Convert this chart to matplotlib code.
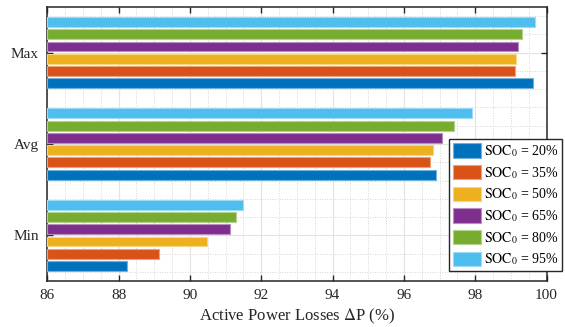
import matplotlib
matplotlib.use("Agg")
import matplotlib.pyplot as plt
import matplotlib.colors as mcolors
from matplotlib.ticker import MultipleLocator
import numpy as np

plt.rcParams['font.family'] = ['Liberation Serif', 'DejaVu Serif']
plt.rcParams['mathtext.fontset'] = 'stix'

categories = ['Min', 'Avg', 'Max']
soc_levels = ['20%', '35%', '50%', '65%', '80%', '95%']
# Active power losses (%) for each initial SOC, ordered Min, Avg, Max
losses = {
    '20%': [88.24, 96.91, 99.62],
    '35%': [89.13, 96.73, 99.11],
    '50%': [90.47, 96.83, 99.13],
    '65%': [91.11, 97.06, 99.19],
    '80%': [91.29, 97.41, 99.32],
    '95%': [91.48, 97.90, 99.69],
}
colors = ['#0072BD', '#D95319', '#EDB120', '#7E2F8E', '#77AC30', '#4DBEEE']

fig = plt.figure(figsize=(5.65, 3.27), dpi=100)
ax = fig.add_axes([0.0837, 0.1407, 0.8836, 0.8379])

y = np.arange(1, len(categories) + 1)
slot = 0.134
bar_h = 0.108
x0 = 86
for i, (lvl, c) in enumerate(zip(soc_levels, colors)):
    vals = np.array(losses[lvl])
    edge = mcolors.to_rgba(c)
    edge = tuple(0.55 * np.array(edge[:3]) + 0.45) + (1,)
    ax.barh(y + (i - 2.5) * slot, vals - x0, left=x0, height=bar_h,
            color=c, edgecolor=edge, linewidth=0.8, zorder=3,
            label=r'$\mathrm{SOC}_0$ = ' + lvl)

ax.set_xlim(86, 100)
ax.set_ylim(0.5, 3.5)
ax.set_yticks(y)
ax.set_yticklabels(categories)
ax.xaxis.set_major_locator(MultipleLocator(2))
ax.xaxis.set_minor_locator(MultipleLocator(0.5))
ax.yaxis.set_minor_locator(MultipleLocator(0.2))

ax.grid(True, which='major', color='#e3e3e3', linewidth=0.8, linestyle='-', zorder=0)
ax.grid(True, which='minor', color='#c8c8c8', linewidth=0.6, linestyle=(0, (1, 2)), zorder=0)
ax.set_axisbelow(True)

ax.tick_params(which='major', direction='in', length=4, width=1, top=True, right=True,
               labelsize=11, colors='#262626', pad=6)
ax.tick_params(which='minor', length=0, top=True, right=True)
for s in ax.spines.values():
    s.set_color('#262626')
    s.set_linewidth(1.1)

ax.set_xlabel(r'Active Power Losses $\Delta$P (%)', fontsize=12, color='#262626', labelpad=3)

leg = ax.legend(loc='upper left', bbox_to_anchor=(0.805, 0.518), borderaxespad=0,
                fontsize=10, fancybox=False, framealpha=1, edgecolor='#262626',
                handlelength=2.0, handleheight=1.22, handletextpad=0.2,
                labelspacing=0.42, borderpad=0.3)
leg.get_frame().set_linewidth(1.0)
leg.set_zorder(5)

fig.savefig('out.png', dpi=100)
